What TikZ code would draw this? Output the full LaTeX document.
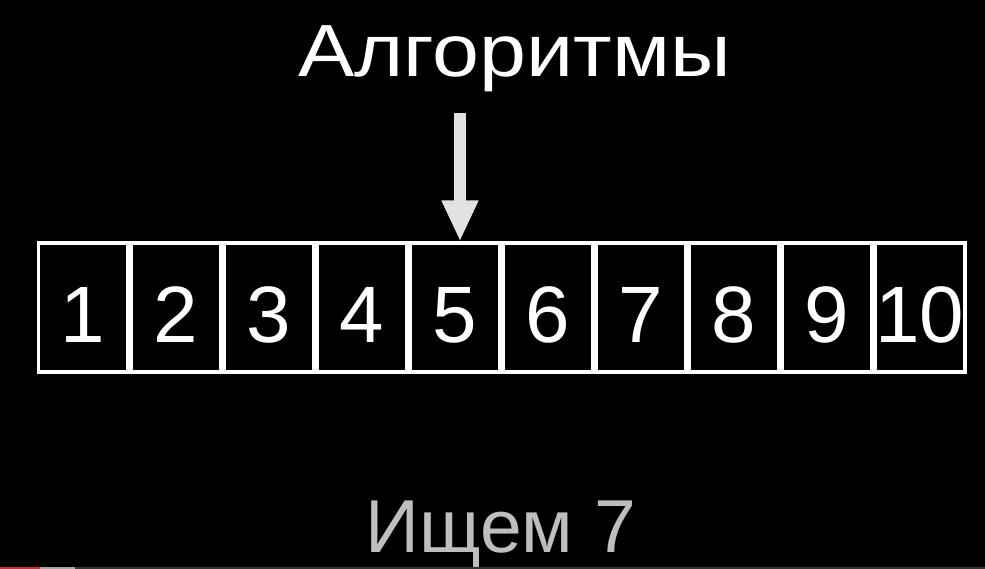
\documentclass[tikz,border=0pt]{standalone}
\usepackage{fontspec}
\setmainfont{Liberation Sans}
\usetikzlibrary{arrows.meta}
\definecolor{arrowgray}{HTML}{E2E2E2}
\definecolor{searchgray}{HTML}{BEBEBE}
\definecolor{barred}{HTML}{E52222}
\definecolor{barlight}{HTML}{A8A8A8}
\definecolor{bardark}{HTML}{333333}
\begin{document}
\begin{tikzpicture}[x=1pt,y=-1pt,
  cell/.style={draw=white,line width=3.7pt,fill=black,minimum width=89.3pt,minimum height=128.8pt,inner sep=0pt,outer sep=0pt},
  digit/.style={text=white,font=\fontsize{80}{90}\selectfont,inner sep=0pt,anchor=base},
  titletxt/.style={text=white,font=\fontsize{74}{80}\selectfont,inner sep=0pt,anchor=base},
  searchtxt/.style={text=searchgray,font=\fontsize{75}{80}\selectfont,inner sep=0pt,anchor=base},
  pointer/.style={draw=arrowgray,line width=12pt,-{Triangle[length=41pt,width=34pt]}}]
\fill[black] (0,0) rectangle (985,569);
\useasboundingbox (0,0) rectangle (985,569);
\node[titletxt] (title) at (514.5,77) {\scalebox{1.14}[1]{Алгоритмы}};
\foreach \i in {1,...,10} {
  \node[cell] (c\i) at ({36.5+93*(\i-0.5)},307.75) {};
}
\foreach \i in {1,...,10} {
  \node[digit] (d\i) at ({36.5+93*(\i-0.5)},342) {\i};
}
\coordinate (atop) at (460,113);
\coordinate (atip) at (460,241.5);
\draw[pointer] (atop) -- (atip);
\node[searchtxt] (search) at (500.5,552) {Ищем 7};
\fill[barred] (0,566.5) rectangle (40,569);
\fill[barlight] (40,566.5) rectangle (75,569);
\fill[bardark] (75,566.5) rectangle (985,569);
\end{tikzpicture}
\end{document}
